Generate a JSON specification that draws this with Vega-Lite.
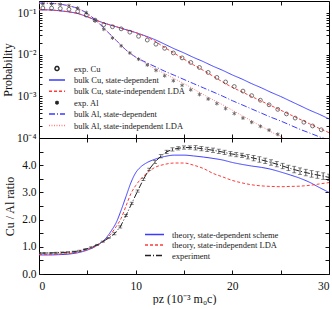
{
  "$schema": "https://vega.github.io/schema/vega-lite/v6.json",
  "background": "white",
  "padding": {"left": 0, "top": 0, "right": 3, "bottom": 0},
  "spacing": 0,
  "bounds": "flush",
  "resolve": {"scale": {"color": "independent", "strokeDash": "independent", "shape": "independent"}},
  "datasets": {
    "topLines": [
      {"p": 0, "s": "bulk Cu, state-dependent", "v": 0.123}, {"p": 1, "s": "bulk Cu, state-dependent", "v": 0.122}, {"p": 2, "s": "bulk Cu, state-dependent", "v": 0.117}, {"p": 3, "s": "bulk Cu, state-dependent", "v": 0.110}, {"p": 4, "s": "bulk Cu, state-dependent", "v": 0.100}, {"p": 5, "s": "bulk Cu, state-dependent", "v": 0.0832}, {"p": 6, "s": "bulk Cu, state-dependent", "v": 0.0676}, {"p": 7, "s": "bulk Cu, state-dependent", "v": 0.0562}, {"p": 8, "s": "bulk Cu, state-dependent", "v": 0.0479}, {"p": 9, "s": "bulk Cu, state-dependent", "v": 0.0407}, {"p": 10, "s": "bulk Cu, state-dependent", "v": 0.0347}, {"p": 11, "s": "bulk Cu, state-dependent", "v": 0.0288}, {"p": 12, "s": "bulk Cu, state-dependent", "v": 0.0234}, {"p": 13, "s": "bulk Cu, state-dependent", "v": 0.0182}, {"p": 14, "s": "bulk Cu, state-dependent", "v": 0.0141}, {"p": 15, "s": "bulk Cu, state-dependent", "v": 0.0112}, {"p": 16, "s": "bulk Cu, state-dependent", "v": 0.00871}, {"p": 17, "s": "bulk Cu, state-dependent", "v": 0.00692}, {"p": 18, "s": "bulk Cu, state-dependent", "v": 0.00537}, {"p": 19, "s": "bulk Cu, state-dependent", "v": 0.00427}, {"p": 20, "s": "bulk Cu, state-dependent", "v": 0.00331}, {"p": 21, "s": "bulk Cu, state-dependent", "v": 0.00263}, {"p": 22, "s": "bulk Cu, state-dependent", "v": 0.00204}, {"p": 23, "s": "bulk Cu, state-dependent", "v": 0.00162}, {"p": 24, "s": "bulk Cu, state-dependent", "v": 0.00126}, {"p": 25, "s": "bulk Cu, state-dependent", "v": 0.00100}, {"p": 26, "s": "bulk Cu, state-dependent", "v": 0.000776}, {"p": 27, "s": "bulk Cu, state-dependent", "v": 0.000603}, {"p": 28, "s": "bulk Cu, state-dependent", "v": 0.000468}, {"p": 29, "s": "bulk Cu, state-dependent", "v": 0.000372}, {"p": 30, "s": "bulk Cu, state-dependent", "v": 0.000288},
      {"p": 0, "s": "bulk Cu, state-independent LDA", "v": 0.123}, {"p": 1, "s": "bulk Cu, state-independent LDA", "v": 0.122}, {"p": 2, "s": "bulk Cu, state-independent LDA", "v": 0.117}, {"p": 3, "s": "bulk Cu, state-independent LDA", "v": 0.110}, {"p": 4, "s": "bulk Cu, state-independent LDA", "v": 0.100}, {"p": 5, "s": "bulk Cu, state-independent LDA", "v": 0.0832}, {"p": 6, "s": "bulk Cu, state-independent LDA", "v": 0.0676}, {"p": 7, "s": "bulk Cu, state-independent LDA", "v": 0.0562}, {"p": 8, "s": "bulk Cu, state-independent LDA", "v": 0.0479}, {"p": 9, "s": "bulk Cu, state-independent LDA", "v": 0.0407}, {"p": 10, "s": "bulk Cu, state-independent LDA", "v": 0.0347}, {"p": 11, "s": "bulk Cu, state-independent LDA", "v": 0.0282}, {"p": 12, "s": "bulk Cu, state-independent LDA", "v": 0.0214}, {"p": 13, "s": "bulk Cu, state-independent LDA", "v": 0.0151}, {"p": 14, "s": "bulk Cu, state-independent LDA", "v": 0.0110}, {"p": 15, "s": "bulk Cu, state-independent LDA", "v": 0.00794}, {"p": 16, "s": "bulk Cu, state-independent LDA", "v": 0.00575}, {"p": 17, "s": "bulk Cu, state-independent LDA", "v": 0.00427}, {"p": 18, "s": "bulk Cu, state-independent LDA", "v": 0.00309}, {"p": 19, "s": "bulk Cu, state-independent LDA", "v": 0.00224}, {"p": 20, "s": "bulk Cu, state-independent LDA", "v": 0.00166}, {"p": 21, "s": "bulk Cu, state-independent LDA", "v": 0.00129}, {"p": 22, "s": "bulk Cu, state-independent LDA", "v": 0.00100}, {"p": 23, "s": "bulk Cu, state-independent LDA", "v": 0.000776}, {"p": 24, "s": "bulk Cu, state-independent LDA", "v": 0.000603}, {"p": 25, "s": "bulk Cu, state-independent LDA", "v": 0.000468}, {"p": 26, "s": "bulk Cu, state-independent LDA", "v": 0.000363}, {"p": 27, "s": "bulk Cu, state-independent LDA", "v": 0.000282}, {"p": 28, "s": "bulk Cu, state-independent LDA", "v": 0.000219}, {"p": 29, "s": "bulk Cu, state-independent LDA", "v": 0.000170}, {"p": 30, "s": "bulk Cu, state-independent LDA", "v": 0.000135},
      {"p": 0, "s": "bulk Al, state-dependent", "v": 0.178}, {"p": 1, "s": "bulk Al, state-dependent", "v": 0.176}, {"p": 2, "s": "bulk Al, state-dependent", "v": 0.170}, {"p": 3, "s": "bulk Al, state-dependent", "v": 0.155}, {"p": 4, "s": "bulk Al, state-dependent", "v": 0.132}, {"p": 5, "s": "bulk Al, state-dependent", "v": 0.100}, {"p": 6, "s": "bulk Al, state-dependent", "v": 0.0646}, {"p": 7, "s": "bulk Al, state-dependent", "v": 0.0380}, {"p": 8, "s": "bulk Al, state-dependent", "v": 0.0224}, {"p": 9, "s": "bulk Al, state-dependent", "v": 0.0132}, {"p": 10, "s": "bulk Al, state-dependent", "v": 0.00891}, {"p": 11, "s": "bulk Al, state-dependent", "v": 0.00676}, {"p": 12, "s": "bulk Al, state-dependent", "v": 0.00525}, {"p": 13, "s": "bulk Al, state-dependent", "v": 0.00407}, {"p": 14, "s": "bulk Al, state-dependent", "v": 0.00324}, {"p": 15, "s": "bulk Al, state-dependent", "v": 0.00257}, {"p": 16, "s": "bulk Al, state-dependent", "v": 0.00204}, {"p": 17, "s": "bulk Al, state-dependent", "v": 0.00162}, {"p": 18, "s": "bulk Al, state-dependent", "v": 0.00129}, {"p": 19, "s": "bulk Al, state-dependent", "v": 0.00102}, {"p": 20, "s": "bulk Al, state-dependent", "v": 0.000794}, {"p": 21, "s": "bulk Al, state-dependent", "v": 0.000631}, {"p": 22, "s": "bulk Al, state-dependent", "v": 0.000501}, {"p": 23, "s": "bulk Al, state-dependent", "v": 0.000398}, {"p": 24, "s": "bulk Al, state-dependent", "v": 0.000316}, {"p": 25, "s": "bulk Al, state-dependent", "v": 0.000257}, {"p": 26, "s": "bulk Al, state-dependent", "v": 0.000204}, {"p": 27, "s": "bulk Al, state-dependent", "v": 0.000162}, {"p": 28, "s": "bulk Al, state-dependent", "v": 0.000132}, {"p": 29, "s": "bulk Al, state-dependent", "v": 0.000107}, {"p": 30, "s": "bulk Al, state-dependent", "v": 0.0000891},
      {"p": 0, "s": "bulk Al, state-independent LDA", "v": 0.178}, {"p": 1, "s": "bulk Al, state-independent LDA", "v": 0.176}, {"p": 2, "s": "bulk Al, state-independent LDA", "v": 0.170}, {"p": 3, "s": "bulk Al, state-independent LDA", "v": 0.155}, {"p": 4, "s": "bulk Al, state-independent LDA", "v": 0.132}, {"p": 5, "s": "bulk Al, state-independent LDA", "v": 0.100}, {"p": 6, "s": "bulk Al, state-independent LDA", "v": 0.0646}, {"p": 7, "s": "bulk Al, state-independent LDA", "v": 0.0380}, {"p": 8, "s": "bulk Al, state-independent LDA", "v": 0.0224}, {"p": 9, "s": "bulk Al, state-independent LDA", "v": 0.0132}, {"p": 10, "s": "bulk Al, state-independent LDA", "v": 0.00891}, {"p": 11, "s": "bulk Al, state-independent LDA", "v": 0.00631}, {"p": 12, "s": "bulk Al, state-independent LDA", "v": 0.00468}, {"p": 13, "s": "bulk Al, state-independent LDA", "v": 0.00355}, {"p": 14, "s": "bulk Al, state-independent LDA", "v": 0.00269}, {"p": 15, "s": "bulk Al, state-independent LDA", "v": 0.00204}, {"p": 16, "s": "bulk Al, state-independent LDA", "v": 0.00151}, {"p": 17, "s": "bulk Al, state-independent LDA", "v": 0.00112}, {"p": 18, "s": "bulk Al, state-independent LDA", "v": 0.000832}, {"p": 19, "s": "bulk Al, state-independent LDA", "v": 0.000631}, {"p": 20, "s": "bulk Al, state-independent LDA", "v": 0.000468}, {"p": 21, "s": "bulk Al, state-independent LDA", "v": 0.000347}, {"p": 22, "s": "bulk Al, state-independent LDA", "v": 0.000257}, {"p": 23, "s": "bulk Al, state-independent LDA", "v": 0.000191}, {"p": 24, "s": "bulk Al, state-independent LDA", "v": 0.000141}, {"p": 25, "s": "bulk Al, state-independent LDA", "v": 0.000107}, {"p": 26, "s": "bulk Al, state-independent LDA", "v": 0.0000794}, {"p": 27, "s": "bulk Al, state-independent LDA", "v": 0.0000589}
    ],
    "topPts": [
      {"p": 0.4, "s": "exp. Cu", "v": 0.135}, {"p": 1.3, "s": "exp. Cu", "v": 0.135}, {"p": 2.2, "s": "exp. Cu", "v": 0.132}, {"p": 3.1, "s": "exp. Cu", "v": 0.126}, {"p": 4.0, "s": "exp. Cu", "v": 0.112}, {"p": 4.9, "s": "exp. Cu", "v": 0.0912}, {"p": 5.8, "s": "exp. Cu", "v": 0.0692}, {"p": 6.7, "s": "exp. Cu", "v": 0.0537}, {"p": 7.6, "s": "exp. Cu", "v": 0.0479}, {"p": 8.5, "s": "exp. Cu", "v": 0.0427}, {"p": 9.4, "s": "exp. Cu", "v": 0.0355}, {"p": 10.3, "s": "exp. Cu", "v": 0.0282}, {"p": 11.2, "s": "exp. Cu", "v": 0.0229}, {"p": 12.1, "s": "exp. Cu", "v": 0.0182}, {"p": 13.0, "s": "exp. Cu", "v": 0.0145}, {"p": 13.9, "s": "exp. Cu", "v": 0.0112}, {"p": 14.8, "s": "exp. Cu", "v": 0.00851}, {"p": 15.7, "s": "exp. Cu", "v": 0.00661}, {"p": 16.6, "s": "exp. Cu", "v": 0.00501}, {"p": 17.5, "s": "exp. Cu", "v": 0.00380}, {"p": 18.4, "s": "exp. Cu", "v": 0.00288}, {"p": 19.3, "s": "exp. Cu", "v": 0.00224}, {"p": 20.2, "s": "exp. Cu", "v": 0.00174}, {"p": 21.1, "s": "exp. Cu", "v": 0.00135}, {"p": 22.0, "s": "exp. Cu", "v": 0.00105}, {"p": 22.9, "s": "exp. Cu", "v": 0.000813}, {"p": 23.8, "s": "exp. Cu", "v": 0.000631}, {"p": 24.7, "s": "exp. Cu", "v": 0.000490}, {"p": 25.6, "s": "exp. Cu", "v": 0.000380}, {"p": 26.5, "s": "exp. Cu", "v": 0.000302}, {"p": 27.4, "s": "exp. Cu", "v": 0.000240}, {"p": 28.3, "s": "exp. Cu", "v": 0.000195}, {"p": 29.2, "s": "exp. Cu", "v": 0.000158},
      {"p": 0.4, "s": "exp. Al", "v": 0.170}, {"p": 1.3, "s": "exp. Al", "v": 0.170}, {"p": 2.2, "s": "exp. Al", "v": 0.166}, {"p": 3.1, "s": "exp. Al", "v": 0.155}, {"p": 4.0, "s": "exp. Al", "v": 0.135}, {"p": 4.9, "s": "exp. Al", "v": 0.105}, {"p": 5.8, "s": "exp. Al", "v": 0.0676}, {"p": 6.7, "s": "exp. Al", "v": 0.0417}, {"p": 7.6, "s": "exp. Al", "v": 0.0257}, {"p": 8.5, "s": "exp. Al", "v": 0.0166}, {"p": 9.4, "s": "exp. Al", "v": 0.0112}, {"p": 10.3, "s": "exp. Al", "v": 0.00794}, {"p": 11.2, "s": "exp. Al", "v": 0.00575}, {"p": 12.1, "s": "exp. Al", "v": 0.00427}, {"p": 13.0, "s": "exp. Al", "v": 0.00316}, {"p": 13.9, "s": "exp. Al", "v": 0.00240}, {"p": 14.8, "s": "exp. Al", "v": 0.00186}, {"p": 15.7, "s": "exp. Al", "v": 0.00145}, {"p": 16.6, "s": "exp. Al", "v": 0.00112}, {"p": 17.5, "s": "exp. Al", "v": 0.000871}, {"p": 18.4, "s": "exp. Al", "v": 0.000676}, {"p": 19.3, "s": "exp. Al", "v": 0.000513}, {"p": 20.2, "s": "exp. Al", "v": 0.000389}, {"p": 21.1, "s": "exp. Al", "v": 0.000302}, {"p": 22.0, "s": "exp. Al", "v": 0.000240}, {"p": 22.9, "s": "exp. Al", "v": 0.000191}, {"p": 23.8, "s": "exp. Al", "v": 0.000155}, {"p": 24.7, "s": "exp. Al", "v": 0.000123}
    ],
    "ratioTheory": [
      {"p": 0, "s": "theory, state-dependent scheme", "v": 0.70}, {"p": 1, "s": "theory, state-dependent scheme", "v": 0.70}, {"p": 2, "s": "theory, state-dependent scheme", "v": 0.71}, {"p": 3, "s": "theory, state-dependent scheme", "v": 0.73}, {"p": 4, "s": "theory, state-dependent scheme", "v": 0.78}, {"p": 5, "s": "theory, state-dependent scheme", "v": 0.88}, {"p": 6, "s": "theory, state-dependent scheme", "v": 1.05}, {"p": 7, "s": "theory, state-dependent scheme", "v": 1.35}, {"p": 7.5, "s": "theory, state-dependent scheme", "v": 1.60}, {"p": 8, "s": "theory, state-dependent scheme", "v": 1.90}, {"p": 8.5, "s": "theory, state-dependent scheme", "v": 2.35}, {"p": 9, "s": "theory, state-dependent scheme", "v": 2.85}, {"p": 9.5, "s": "theory, state-dependent scheme", "v": 3.35}, {"p": 10, "s": "theory, state-dependent scheme", "v": 3.72}, {"p": 10.5, "s": "theory, state-dependent scheme", "v": 3.93}, {"p": 11, "s": "theory, state-dependent scheme", "v": 4.06}, {"p": 12, "s": "theory, state-dependent scheme", "v": 4.22}, {"p": 13, "s": "theory, state-dependent scheme", "v": 4.32}, {"p": 14, "s": "theory, state-dependent scheme", "v": 4.37}, {"p": 15, "s": "theory, state-dependent scheme", "v": 4.37}, {"p": 16, "s": "theory, state-dependent scheme", "v": 4.34}, {"p": 17, "s": "theory, state-dependent scheme", "v": 4.30}, {"p": 18, "s": "theory, state-dependent scheme", "v": 4.25}, {"p": 19, "s": "theory, state-dependent scheme", "v": 4.19}, {"p": 20, "s": "theory, state-dependent scheme", "v": 4.10}, {"p": 21, "s": "theory, state-dependent scheme", "v": 4.03}, {"p": 22, "s": "theory, state-dependent scheme", "v": 3.97}, {"p": 23, "s": "theory, state-dependent scheme", "v": 3.92}, {"p": 24, "s": "theory, state-dependent scheme", "v": 3.85}, {"p": 25, "s": "theory, state-dependent scheme", "v": 3.75}, {"p": 26, "s": "theory, state-dependent scheme", "v": 3.64}, {"p": 27, "s": "theory, state-dependent scheme", "v": 3.52}, {"p": 28, "s": "theory, state-dependent scheme", "v": 3.37}, {"p": 29, "s": "theory, state-dependent scheme", "v": 3.18}, {"p": 30, "s": "theory, state-dependent scheme", "v": 3.00},
      {"p": 0, "s": "theory, state-independent LDA", "v": 0.72}, {"p": 1, "s": "theory, state-independent LDA", "v": 0.72}, {"p": 2, "s": "theory, state-independent LDA", "v": 0.73}, {"p": 3, "s": "theory, state-independent LDA", "v": 0.75}, {"p": 4, "s": "theory, state-independent LDA", "v": 0.80}, {"p": 5, "s": "theory, state-independent LDA", "v": 0.90}, {"p": 6, "s": "theory, state-independent LDA", "v": 1.05}, {"p": 7, "s": "theory, state-independent LDA", "v": 1.30}, {"p": 7.5, "s": "theory, state-independent LDA", "v": 1.50}, {"p": 8, "s": "theory, state-independent LDA", "v": 1.75}, {"p": 8.5, "s": "theory, state-independent LDA", "v": 2.05}, {"p": 9, "s": "theory, state-independent LDA", "v": 2.50}, {"p": 9.5, "s": "theory, state-independent LDA", "v": 2.95}, {"p": 10, "s": "theory, state-independent LDA", "v": 3.25}, {"p": 10.5, "s": "theory, state-independent LDA", "v": 3.48}, {"p": 11, "s": "theory, state-independent LDA", "v": 3.66}, {"p": 12, "s": "theory, state-independent LDA", "v": 3.92}, {"p": 13, "s": "theory, state-independent LDA", "v": 4.03}, {"p": 14, "s": "theory, state-independent LDA", "v": 4.08}, {"p": 15, "s": "theory, state-independent LDA", "v": 4.08}, {"p": 16, "s": "theory, state-independent LDA", "v": 4.00}, {"p": 17, "s": "theory, state-independent LDA", "v": 3.88}, {"p": 18, "s": "theory, state-independent LDA", "v": 3.70}, {"p": 19, "s": "theory, state-independent LDA", "v": 3.57}, {"p": 20, "s": "theory, state-independent LDA", "v": 3.44}, {"p": 21, "s": "theory, state-independent LDA", "v": 3.35}, {"p": 22, "s": "theory, state-independent LDA", "v": 3.28}, {"p": 23, "s": "theory, state-independent LDA", "v": 3.24}, {"p": 24, "s": "theory, state-independent LDA", "v": 3.22}, {"p": 25, "s": "theory, state-independent LDA", "v": 3.21}, {"p": 26, "s": "theory, state-independent LDA", "v": 3.22}, {"p": 27, "s": "theory, state-independent LDA", "v": 3.23}, {"p": 28, "s": "theory, state-independent LDA", "v": 3.26}, {"p": 29, "s": "theory, state-independent LDA", "v": 3.31}, {"p": 30, "s": "theory, state-independent LDA", "v": 3.36}
    ],
    "ratioExp": [
      {"p": 0.0, "s": "experiment", "v": 0.77, "lo": 0.75, "hi": 0.79}, {"p": 0.6, "s": "experiment", "v": 0.77, "lo": 0.75, "hi": 0.79}, {"p": 1.2, "s": "experiment", "v": 0.775, "lo": 0.755, "hi": 0.795}, {"p": 1.8, "s": "experiment", "v": 0.78, "lo": 0.76, "hi": 0.80}, {"p": 2.4, "s": "experiment", "v": 0.79, "lo": 0.77, "hi": 0.81}, {"p": 3.0, "s": "experiment", "v": 0.80, "lo": 0.78, "hi": 0.82}, {"p": 3.6, "s": "experiment", "v": 0.82, "lo": 0.80, "hi": 0.84}, {"p": 4.2, "s": "experiment", "v": 0.855, "lo": 0.835, "hi": 0.875}, {"p": 4.8, "s": "experiment", "v": 0.91, "lo": 0.89, "hi": 0.93}, {"p": 5.4, "s": "experiment", "v": 0.98, "lo": 0.96, "hi": 1.00}, {"p": 6.0, "s": "experiment", "v": 1.07, "lo": 1.05, "hi": 1.09}, {"p": 6.6, "s": "experiment", "v": 1.19, "lo": 1.17, "hi": 1.21}, {"p": 7.2, "s": "experiment", "v": 1.32, "lo": 1.30, "hi": 1.34}, {"p": 7.8, "s": "experiment", "v": 1.48, "lo": 1.44, "hi": 1.52}, {"p": 8.4, "s": "experiment", "v": 1.73, "lo": 1.69, "hi": 1.77}, {"p": 9.0, "s": "experiment", "v": 2.15, "lo": 2.11, "hi": 2.19}, {"p": 9.6, "s": "experiment", "v": 2.60, "lo": 2.56, "hi": 2.64}, {"p": 10.2, "s": "experiment", "v": 3.05, "lo": 3.01, "hi": 3.09}, {"p": 10.8, "s": "experiment", "v": 3.48, "lo": 3.44, "hi": 3.52}, {"p": 11.4, "s": "experiment", "v": 3.85, "lo": 3.81, "hi": 3.89}, {"p": 12.0, "s": "experiment", "v": 4.12, "lo": 4.06, "hi": 4.18}, {"p": 12.6, "s": "experiment", "v": 4.33, "lo": 4.27, "hi": 4.39}, {"p": 13.2, "s": "experiment", "v": 4.49, "lo": 4.43, "hi": 4.55}, {"p": 13.8, "s": "experiment", "v": 4.58, "lo": 4.52, "hi": 4.64}, {"p": 14.4, "s": "experiment", "v": 4.62, "lo": 4.56, "hi": 4.68}, {"p": 15.0, "s": "experiment", "v": 4.65, "lo": 4.59, "hi": 4.71}, {"p": 15.6, "s": "experiment", "v": 4.65, "lo": 4.59, "hi": 4.71}, {"p": 16.2, "s": "experiment", "v": 4.64, "lo": 4.56, "hi": 4.72}, {"p": 16.8, "s": "experiment", "v": 4.61, "lo": 4.53, "hi": 4.69}, {"p": 17.4, "s": "experiment", "v": 4.58, "lo": 4.50, "hi": 4.66}, {"p": 18.0, "s": "experiment", "v": 4.55, "lo": 4.47, "hi": 4.63}, {"p": 18.6, "s": "experiment", "v": 4.51, "lo": 4.43, "hi": 4.59}, {"p": 19.2, "s": "experiment", "v": 4.47, "lo": 4.39, "hi": 4.55}, {"p": 19.8, "s": "experiment", "v": 4.42, "lo": 4.34, "hi": 4.50}, {"p": 20.4, "s": "experiment", "v": 4.39, "lo": 4.31, "hi": 4.47}, {"p": 21.0, "s": "experiment", "v": 4.36, "lo": 4.28, "hi": 4.44}, {"p": 21.6, "s": "experiment", "v": 4.31, "lo": 4.23, "hi": 4.39}, {"p": 22.2, "s": "experiment", "v": 4.26, "lo": 4.16, "hi": 4.36}, {"p": 22.8, "s": "experiment", "v": 4.21, "lo": 4.11, "hi": 4.31}, {"p": 23.4, "s": "experiment", "v": 4.16, "lo": 4.06, "hi": 4.26}, {"p": 24.0, "s": "experiment", "v": 4.10, "lo": 4.00, "hi": 4.20}, {"p": 24.6, "s": "experiment", "v": 4.04, "lo": 3.94, "hi": 4.14}, {"p": 25.2, "s": "experiment", "v": 3.97, "lo": 3.87, "hi": 4.07}, {"p": 25.8, "s": "experiment", "v": 3.90, "lo": 3.80, "hi": 4.00}, {"p": 26.4, "s": "experiment", "v": 3.84, "lo": 3.72, "hi": 3.96}, {"p": 27.0, "s": "experiment", "v": 3.78, "lo": 3.66, "hi": 3.90}, {"p": 27.6, "s": "experiment", "v": 3.73, "lo": 3.61, "hi": 3.85}, {"p": 28.2, "s": "experiment", "v": 3.68, "lo": 3.56, "hi": 3.80}, {"p": 28.8, "s": "experiment", "v": 3.64, "lo": 3.52, "hi": 3.76}, {"p": 29.4, "s": "experiment", "v": 3.60, "lo": 3.48, "hi": 3.72}, {"p": 30.0, "s": "experiment", "v": 3.55, "lo": 3.43, "hi": 3.67}
    ]
  },
  "vconcat": [
    {
      "width": 290,
      "height": 137,
      "resolve": {"axis": {"x": "independent", "y": "independent"}},
      "layer": [
        {
          "data": {"name": "topLines"},
          "mark": {"type": "line", "strokeWidth": 1, "clip": true, "interpolate": "monotone"},
          "encoding": {
            "x": {"field": "p", "type": "quantitative", "scale": {"domain": [0, 30], "nice": false},
              "axis": {"orient": "bottom", "values": [0, 5, 10, 15, 20, 25, 30], "labels": false, "title": null, "tickSize": 4, "offset": -4}},
            "y": {"field": "v", "type": "quantitative", "scale": {"type": "log", "domain": [0.0001, 0.2], "nice": false},
              "axis": {"orient": "left", "title": "Probability", "labelPadding": 3, "titlePadding": 2, "tickSize": 3, "offset": -3,
                "values": [0.0001, 0.0002, 0.0003, 0.0004, 0.0005, 0.0006, 0.0007, 0.0008, 0.0009, 0.001, 0.002, 0.003, 0.004, 0.005, 0.006, 0.007, 0.008, 0.009, 0.01, 0.02, 0.03, 0.04, 0.05, 0.06, 0.07, 0.08, 0.09, 0.1],
                "labelExpr": "datum.value === 0.1 ? '10⁻¹' : datum.value === 0.01 ? '10⁻²' : datum.value === 0.001 ? '10⁻³' : datum.value === 0.0001 ? '10⁻⁴' : ''"}},
            "color": {"field": "s", "type": "nominal",
              "scale": {"domain": ["exp. Cu", "bulk Cu, state-dependent", "bulk Cu, state-independent LDA", "exp. Al", "bulk Al, state-dependent", "bulk Al, state-independent LDA"],
                "range": ["#222222", "#3b3bff", "#ff3b3b", "#222222", "#3b3bff", "#ff8080"]},
              "legend": {"orient": "none", "legendX": 9, "legendY": 63, "title": null, "symbolType": "stroke", "symbolSize": 256,
                "clipHeight": 9, "rowPadding": 2.4, "labelFontSize": 8.5, "labelFont": "Liberation Serif", "labelColor": "#222222", "labelOffset": 8, "padding": 0,
                "encode": {"symbols": {"update": {
                  "shape": {"signal": "datum.value === 'exp. Cu' ? 'circle' : datum.value === 'exp. Al' ? 'M0,-1L0,1M-0.87,-0.5L0.87,0.5M-0.87,0.5L0.87,-0.5' : 'stroke'"},
                  "size": {"signal": "datum.value === 'exp. Cu' || datum.value === 'exp. Al' ? 16 : 256"},
                  "strokeDash": {"signal": "datum.value === 'bulk Cu, state-independent LDA' ? [3, 2] : datum.value === 'bulk Al, state-dependent' ? [6, 2, 1, 2] : datum.value === 'bulk Al, state-independent LDA' ? [1, 1.5] : [1, 0]"}
                }}}}},
            "strokeDash": {"field": "s", "type": "nominal",
              "scale": {"domain": ["bulk Cu, state-dependent", "bulk Cu, state-independent LDA", "bulk Al, state-dependent", "bulk Al, state-independent LDA"],
                "range": [[1, 0], [3, 2], [6, 2, 1, 2], [1, 1.5]]},
              "legend": null}
          }
        },
        {
          "data": {"name": "topPts"},
          "mark": {"type": "point", "filled": false, "strokeWidth": 0.9, "clip": true, "size": 15},
          "encoding": {
            "x": {"field": "p", "type": "quantitative",
              "axis": {"orient": "top", "values": [0, 5, 10, 15, 20, 25, 30], "labels": false, "title": null, "tickSize": 4, "offset": -4}},
            "y": {"field": "v", "type": "quantitative",
              "axis": {"orient": "right", "labels": false, "title": null, "tickSize": 3, "offset": -3,
                "values": [0.0001, 0.0002, 0.0003, 0.0004, 0.0005, 0.0006, 0.0007, 0.0008, 0.0009, 0.001, 0.002, 0.003, 0.004, 0.005, 0.006, 0.007, 0.008, 0.009, 0.01, 0.02, 0.03, 0.04, 0.05, 0.06, 0.07, 0.08, 0.09, 0.1]}},
            "color": {"field": "s", "type": "nominal"},
            "shape": {"field": "s", "type": "nominal",
              "scale": {"domain": ["exp. Cu", "exp. Al"], "range": ["circle", "M0,-1L0,1M-0.87,-0.5L0.87,0.5M-0.87,0.5L0.87,-0.5"]},
              "legend": null}
          }
        }
      ]
    },
    {
      "width": 290,
      "height": 136,
      "resolve": {"axis": {"x": "independent", "y": "independent"}},
      "layer": [
        {
          "data": {"name": "ratioTheory"},
          "mark": {"type": "line", "strokeWidth": 1, "clip": true, "interpolate": "monotone"},
          "encoding": {
            "x": {"field": "p", "type": "quantitative", "scale": {"domain": [0, 30], "nice": false},
              "axis": {"orient": "bottom", "values": [0, 5, 10, 15, 20, 25, 30], "title": "pz (10⁻³ m₀c)", "labelPadding": 6, "titlePadding": 2, "tickSize": 4, "offset": -4,
                "labelExpr": "datum.value % 10 === 0 ? datum.label : ''"}},
            "y": {"field": "v", "type": "quantitative", "scale": {"domain": [0, 5], "nice": false},
              "axis": {"orient": "left", "title": "Cu / Al ratio", "labelPadding": 3, "titlePadding": 5, "tickSize": 4, "offset": -4,
                "values": [0, 0.5, 1, 1.5, 2, 2.5, 3, 3.5, 4, 4.5],
                "labelExpr": "datum.value % 1 === 0 ? datum.label : ''"}},
            "color": {"field": "s", "type": "nominal",
              "scale": {"domain": ["theory, state-dependent scheme", "theory, state-independent LDA", "experiment"], "range": ["#3b3bff", "#ff3b3b", "#222222"]},
              "legend": {"orient": "none", "legendX": 105, "legendY": 92, "title": null, "symbolType": "stroke", "symbolSize": 361,
                "clipHeight": 9, "rowPadding": 1.5, "labelFontSize": 8.5, "labelFont": "Liberation Serif", "labelColor": "#222222", "labelOffset": 7, "padding": 0,
                "encode": {"symbols": {"update": {
                  "strokeDash": {"signal": "datum.value === 'theory, state-independent LDA' ? [3, 2] : datum.value === 'experiment' ? [6, 2, 1, 2] : [1, 0]"}
                }}}}},
            "strokeDash": {"field": "s", "type": "nominal",
              "scale": {"domain": ["theory, state-dependent scheme", "theory, state-independent LDA", "experiment"], "range": [[1, 0], [3, 2], [6, 2, 1, 2]]},
              "legend": null}
          }
        },
        {
          "data": {"name": "ratioExp"},
          "mark": {"type": "line", "strokeWidth": 1, "clip": true},
          "encoding": {
            "x": {"field": "p", "type": "quantitative",
              "axis": {"orient": "top", "values": [0, 5, 10, 15, 20, 25, 30], "labels": false, "title": null, "tickSize": 4, "offset": -4}},
            "y": {"field": "v", "type": "quantitative",
              "axis": {"orient": "right", "labels": false, "title": null, "tickSize": 4, "offset": -4,
                "values": [0, 0.5, 1, 1.5, 2, 2.5, 3, 3.5, 4, 4.5, 5]}},
            "color": {"field": "s", "type": "nominal"},
            "strokeDash": {"field": "s", "type": "nominal", "legend": null}
          }
        },
        {
          "data": {"name": "ratioExp"},
          "mark": {"type": "rule", "strokeWidth": 0.8, "color": "#333333", "clip": true},
          "encoding": {
            "x": {"field": "p", "type": "quantitative", "axis": null},
            "y": {"field": "lo", "type": "quantitative", "axis": null},
            "y2": {"field": "hi"}
          }
        },
        {
          "data": {"name": "ratioExp"},
          "mark": {"type": "tick", "orient": "horizontal", "size": 4, "thickness": 0.8, "color": "#333333", "clip": true},
          "encoding": {
            "x": {"field": "p", "type": "quantitative", "axis": null},
            "y": {"field": "lo", "type": "quantitative", "axis": null}
          }
        },
        {
          "data": {"name": "ratioExp"},
          "mark": {"type": "tick", "orient": "horizontal", "size": 4, "thickness": 0.8, "color": "#333333", "clip": true},
          "encoding": {
            "x": {"field": "p", "type": "quantitative", "axis": null},
            "y": {"field": "hi", "type": "quantitative", "axis": null}
          }
        }
      ]
    }
  ],
  "config": {
    "view": {"stroke": "black", "strokeWidth": 1},
    "font": "Liberation Serif",
    "axis": {"domain": false, "grid": false, "labelFont": "Liberation Serif", "labelFontSize": 11.5, "labelColor": "#111111",
      "tickColor": "#111111", "tickWidth": 1, "titleFont": "Liberation Serif", "titleFontWeight": "normal", "titleFontSize": 12, "titleColor": "#111111"}
  }
}
